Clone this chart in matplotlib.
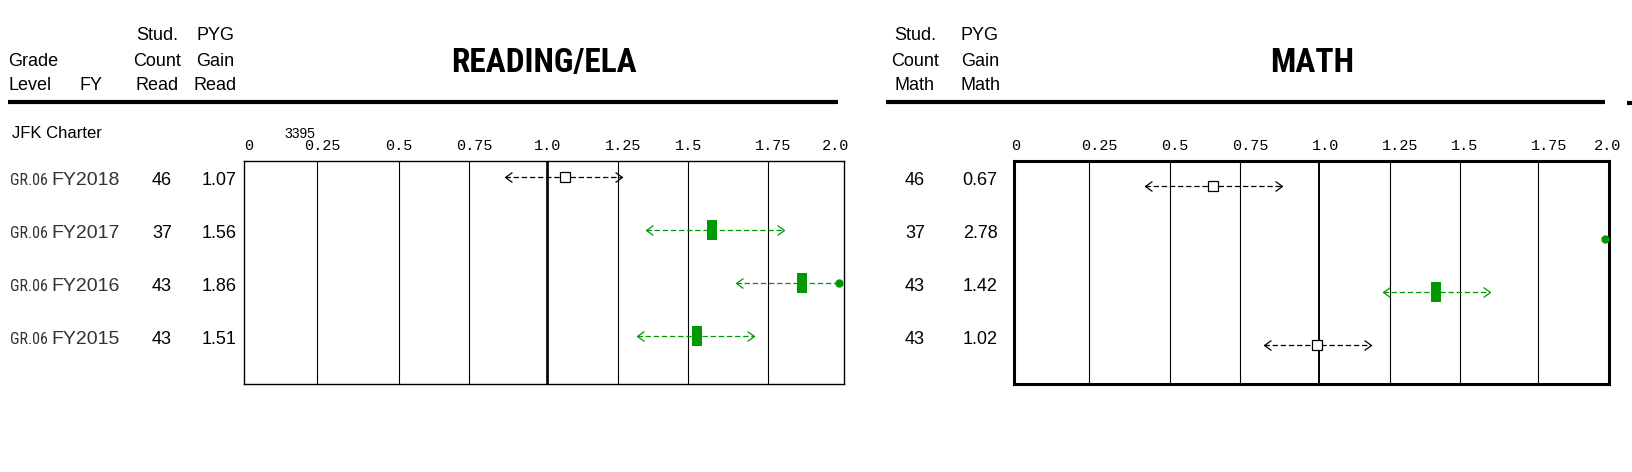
import numpy as np
import matplotlib
matplotlib.use("Agg")
import matplotlib.pyplot as plt
import matplotlib.transforms as mtransforms
from matplotlib import font_manager
from matplotlib.path import Path
from matplotlib.lines import Line2D

# rows, top to bottom
grades = ["GR.06", "GR.06", "GR.06", "GR.06"]
years = ["FY2018", "FY2017", "FY2016", "FY2015"]

read_count = [46, 37, 43, 43]
read_gain = [1.07, 1.56, 1.86, 1.51]
read_lo = [0.87, 1.34, 1.64, 1.31]
read_hi = [1.26, 1.80, 2.08, 1.70]

math_count = [46, 37, 43, 43]
math_gain = [0.67, 2.78, 1.42, 1.02]
math_lo = [0.44, 2.55, 1.24, 0.84]
math_hi = [0.90, 3.01, 1.60, 1.20]

# axis furniture as printed in the report (its scale is not quite even)
tick_labels = ["0", "0.25", "0.5", "0.75", "1.0", "1.25", "1.5", "1.75", "2.0"]
read_grid = [0.245, 0.517, 0.749, 1.012, 1.246, 1.482, 1.747]
read_ticks = [0.016, 0.262, 0.517, 0.768, 1.012, 1.266, 1.484, 1.766, 1.973]
math_grid = [0.253, 0.525, 0.760, 1.025, 1.264, 1.498, 1.763]
math_ticks = [0.006, 0.288, 0.540, 0.794, 1.046, 1.299, 1.514, 1.800, 1.995]

W, H = 1632, 472
GREEN = "#009a00"
SANS = ["Liberation Sans", "DejaVu Sans"]
MONO = ["Liberation Mono", "DejaVu Sans Mono"]

# the report uses a narrow face; take one if the machine has it
narrow = None
for f in font_manager.fontManager.ttflist:
    if f.stretch in ("condensed", "semi-condensed") and f.style == "normal":
        if any(k in f.name for k in ("Liberation", "Arial", "Roboto", "Noto Sans", "Open Sans", "DejaVu Sans")):
            narrow = f.name
            if "Liberation" in f.name or "Arial" in f.name:
                break

if narrow:
    title_kw = dict(family=[narrow] + SANS, stretch="condensed", fontsize=24, weight="bold")
    grade_kw = dict(family=[narrow] + SANS, stretch="condensed", fontsize=11.5)
else:
    title_kw = dict(family=SANS, fontsize=19.5, weight="bold")
    grade_kw = dict(family=SANS, fontsize=9.5)

fig = plt.figure(figsize=(W / 100, H / 100), dpi=100)


def ftext(x, y, s, **kw):
    kw.setdefault("family", SANS)
    kw.setdefault("va", "center")
    fig.text(x / W, 1 - y / H, s, **kw)


def fline(x0, x1, y, lw):
    fig.add_artist(Line2D([x0 / W, x1 / W], [1 - y / H, 1 - y / H],
                          color="black", lw=lw, transform=fig.transFigure,
                          solid_capstyle="butt"))


chev_left = Path([(1.4, 1), (0, 0), (1.4, -1)],
                 [Path.MOVETO, Path.LINETO, Path.LINETO])
chev_right = Path([(-1.4, 1), (0, 0), (-1.4, -1)],
                  [Path.MOVETO, Path.LINETO, Path.LINETO])
bar = Path([(-0.5, -1), (0.5, -1), (0.5, 1), (-0.5, 1), (-0.5, -1)],
           [Path.MOVETO, Path.LINETO, Path.LINETO, Path.LINETO, Path.CLOSEPOLY])


def panel(left, width, ylim, grid, ticks, gain, lo, hi, frame_lw, ref_lw):
    ax = fig.add_axes([left / W, (H - 384) / H, width / W, 223.5 / H])
    ax.set_xlim(0, 2)
    ax.set_ylim(*ylim)
    for sp in ax.spines.values():
        sp.set_linewidth(frame_lw)
    for gx in grid:
        ax.axvline(gx, color="black", lw=ref_lw if abs(gx - 1) < 0.05 else 0.8, zorder=1)
    ax.set_yticks([])
    ax.xaxis.tick_top()
    ax.set_xticks(ticks, tick_labels, family=MONO, fontsize=11)
    ax.tick_params(axis="x", length=0, pad=5.5)
    edge = 1.985
    for i, (g, l, h) in enumerate(zip(gain, lo, hi)):
        sig = l > 1.0
        col = GREEN if sig else "black"
        if g > 2:
            ax.plot(edge, i, "o", ms=5, color=col, zorder=4)
            continue
        right = min(h, edge)
        ax.plot([l, right], [i, i], ls=(0, (4.3, 2.2)), color=col, lw=0.9, zorder=2)
        ax.plot(l, i, marker=chev_left, ms=10, mfc="none", mec=col, mew=0.9, zorder=3)
        if h > 2:
            ax.plot(edge, i, "o", ms=5, color=col, zorder=4)
        else:
            ax.plot(h, i, marker=chev_right, ms=10, mfc="none", mec=col, mew=0.9, zorder=3)
        if sig:
            ax.plot(g, i, marker=bar, ms=14.4, color=col, mew=0, zorder=4)
        else:
            ax.plot(g, i, "s", ms=6.5, mfc="white", mec="black", mew=0.9, zorder=4)
    return ax


ax_r = panel(243.8, 600, (3.906, -0.311), read_grid, read_ticks,
             read_gain, read_lo, read_hi, 1.0, 1.9)
ax_m = panel(1014.0, 595, (3.736, -0.481), math_grid, math_ticks,
             math_gain, math_lo, math_hi, 2.2, 1.4)

# header block
for x0, x1 in [(8, 838), (886, 1605)]:
    fline(x0, x1, 102, 3.0)
fline(1627, 1632, 103, 3.0)

ftext(8, 62, "Grade", fontsize=13)
ftext(8, 85, "Level", fontsize=13)
ftext(91, 85, "FY", fontsize=13, ha="center")
for x, words in [(157, ["Stud.", "Count", "Read"]), (215, ["PYG", "Gain", "Read"]),
                 (915, ["Stud.", "Count", "Math"]), (980, ["PYG", "Gain", "Math"])]:
    for y, w in zip([36, 62, 85], words):
        ftext(x, y, w, fontsize=13, ha="center")
ftext(544, 72, "READING/ELA", ha="center", va="baseline", **title_kw)
ftext(1312, 72, "MATH", ha="center", va="baseline", **title_kw)

ftext(12, 134, "JFK Charter", fontsize=12)
ftext(300, 134, "3395", fontsize=10, ha="center")

# row labels follow the reading panel rows
row_tr = mtransforms.blended_transform_factory(fig.transFigure, ax_r.transData) + \
    mtransforms.ScaledTranslation(0, -0.04, fig.dpi_scale_trans)
for i in range(len(years)):
    fig.text(10 / W, i, grades[i], transform=row_tr, color="#333333", va="center", **grade_kw)
    fig.text(51 / W, i, years[i], transform=row_tr, family=SANS, fontsize=14,
             color="#333333", va="center")
    fig.text(162 / W, i, str(read_count[i]), transform=row_tr, family=SANS,
             fontsize=13, ha="center", va="center")
    fig.text(219 / W, i, f"{read_gain[i]:.2f}", transform=row_tr, family=SANS,
             fontsize=13, ha="center", va="center")
    fig.text(915 / W, i, str(math_count[i]), transform=row_tr, family=SANS,
             fontsize=13, ha="center", va="center")
    fig.text(980 / W, i, f"{math_gain[i]:.2f}", transform=row_tr, family=SANS,
             fontsize=13, ha="center", va="center")

fig.savefig("out.png", dpi=100, facecolor="white")
